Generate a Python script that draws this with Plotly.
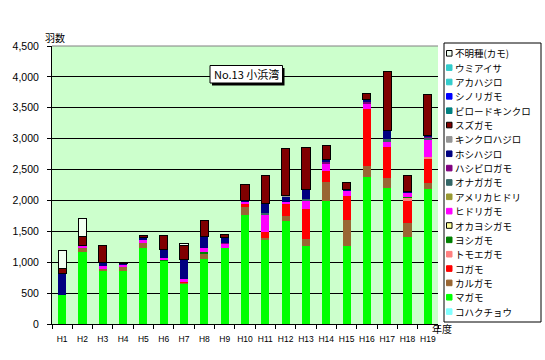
import plotly.graph_objects as go

years = ["H1", "H2", "H3", "H4", "H5", "H6", "H7", "H8", "H9", "H10",
         "H11", "H12", "H13", "H14", "H15", "H16", "H17", "H18", "H19"]

# stacking order: bottom -> top
kohakuchou      = [0] * 19
magamo          = [470, 1170, 863, 858, 1236, 1025, 659, 1052, 1230, 1765, 1365, 1668, 1268, 1991, 1263, 2380, 2207, 1408, 2186]
karugamo        = [0, 60, 22, 60, 70, 0, 16, 92, 0, 134, 33, 86, 113, 308, 421, 178, 162, 227, 102]
kogamo          = [0, 0, 0, 0, 0, 0, 16, 0, 0, 44, 97, 194, 481, 173, 393, 918, 497, 356, 383]
tomoegamo       = [0, 0, 0, 0, 0, 0, 0, 0, 0, 0, 0, 0, 0, 0, 0, 0, 0, 54, 28]
yoshigamo       = [0, 0, 0, 0, 0, 16, 0, 22, 0, 0, 0, 0, 0, 0, 0, 0, 0, 16, 0]
okayoshigamo    = [0] * 19
hidorigamo      = [0, 38, 54, 40, 54, 22, 32, 64, 71, 37, 270, 22, 134, 130, 81, 86, 81, 65, 291]
amerikahidori   = [0] * 19
onagagamo       = [0, 0, 0, 0, 0, 0, 0, 0, 0, 0, 27, 0, 22, 0, 0, 0, 48, 0, 22]
hashibirogamo   = [0, 0, 0, 0, 0, 0, 0, 0, 10, 8, 0, 0, 0, 21, 0, 37, 0, 0, 16]
hoshihajiro     = [350, 0, 54, 20, 43, 146, 318, 184, 97, 16, 156, 91, 162, 32, 22, 28, 141, 22, 27]
kinkurohajiro   = [0, 0, 0, 0, 0, 0, 0, 0, 0, 0, 0, 22, 0, 0, 0, 0, 0, 0, 0]
suzugamo        = [80, 146, 281, 20, 33, 227, 227, 259, 43, 249, 460, 761, 680, 237, 114, 97, 955, 260, 664]
birodokinkuro   = [0] * 19
shinorigamo     = [0] * 19
akahajiro       = [0] * 19
umiaisa         = [0] * 19
fumeishu        = [286, 297, 0, 0, 0, 0, 40, 0, 0, 0, 0, 0, 0, 0, 0, 0, 0, 0, 0]

series_names = ["コハクチョウ", "マガモ", "カルガモ", "コガモ", "トモエガモ", "ヨシガモ",
                "オカヨシガモ", "ヒドリガモ", "アメリカヒドリ", "オナガガモ", "ハシビロガモ",
                "ホシハジロ", "キンクロハジロ", "スズガモ", "ビロードキンクロ", "シノリガモ",
                "アカハジロ", "ウミアイサ", "不明種(カモ)"]
series_values = [kohakuchou, magamo, karugamo, kogamo, tomoegamo, yoshigamo,
                 okayoshigamo, hidorigamo, amerikahidori, onagagamo, hashibirogamo,
                 hoshihajiro, kinkurohajiro, suzugamo, birodokinkuro, shinorigamo,
                 akahajiro, umiaisa, fumeishu]
series_colors = ["#80FFFF", "#00FF00", "#996633", "#FF0000", "#FF8080", "#008000",
                 "#FFFF99", "#FF00FF", "#999933", "#336666", "#800080",
                 "#000080", "#969696", "#800000", "#008080", "#0000FF",
                 "#33CCCC", "#33CCCC", "#F2FFF2"]
outlined = {"スズガモ", "不明種(カモ)", "オカヨシガモ"}

y_ticks = list(range(0, 4501, 500))

# plot area in pixels
L, R, T, B = 52, 438, 46, 324
W, H = 545, 360


def px(x):
    return (x - L) / (R - L)


def py(y):
    return (B - y) / (B - T)


fig = go.Figure()
for name, vals, col in zip(series_names, series_values, series_colors):
    lw = 1 if name in ("スズガモ", "不明種(カモ)") else 0
    fig.add_trace(go.Bar(x=years, y=vals, name=name, marker_color=col,
                         marker_line=dict(color="black", width=lw),
                         showlegend=False))

shapes = []
annotations = []

# gray top border of plot area
shapes.append(dict(type="line", xref="paper", yref="paper", x0=0, x1=1, y0=1, y1=1,
                   line=dict(color="#808080", width=1), layer="above"))

# title box with shadow
shapes.append(dict(type="rect", xref="paper", yref="paper",
                   x0=px(212), x1=px(284.5), y0=py(85.5), y1=py(68),
                   fillcolor="black", line=dict(width=0), layer="above"))
shapes.append(dict(type="rect", xref="paper", yref="paper",
                   x0=px(210), x1=px(282.5), y0=py(83), y1=py(65.5),
                   fillcolor="white", line=dict(color="black", width=1), layer="above"))
annotations.append(dict(xref="paper", yref="paper", x=px(246.2), y=py(74.3),
                        text="No.13 小浜湾", showarrow=False,
                        font=dict(family="Noto Sans CJK JP", size=11, color="black"),
                        xanchor="center", yanchor="middle"))

# y-axis title and x-axis title
annotations.append(dict(xref="paper", yref="paper", x=px(43), y=py(38),
                        text="羽数", showarrow=False,
                        font=dict(family="Noto Sans CJK JP", size=10, color="black"),
                        xanchor="left", yanchor="middle"))
annotations.append(dict(xref="paper", yref="paper", x=px(430), y=py(329),
                        text="年度", showarrow=False,
                        font=dict(family="Noto Sans CJK JP", size=10, color="black"),
                        xanchor="left", yanchor="middle"))

# custom legend
shapes.append(dict(type="rect", xref="paper", yref="paper",
                   x0=px(444), x1=px(541), y0=py(322), y1=py(43),
                   fillcolor="white", line=dict(color="black", width=1), layer="above"))
legend_order = list(range(len(series_names)))[::-1]
for i, idx in enumerate(legend_order):
    yc = 53.3 + 14.35 * i
    name = series_names[idx]
    shapes.append(dict(type="rect", xref="paper", yref="paper",
                       x0=px(446.5), x1=px(452), y0=py(yc + 2.8), y1=py(yc - 2.8),
                       fillcolor=series_colors[idx],
                       line=dict(color="black" if name in outlined else series_colors[idx], width=1),
                       layer="above"))
    annotations.append(dict(xref="paper", yref="paper", x=px(453), y=py(yc),
                            text=name, showarrow=False,
                            font=dict(family="Noto Sans CJK JP", size=9.5, color="black"),
                            xanchor="left", yanchor="middle"))

fig.update_layout(
    barmode="stack",
    bargap=0.6,
    width=W, height=H,
    margin=dict(l=L, r=W - R, t=T, b=H - B, pad=0, autoexpand=False),
    paper_bgcolor="white",
    plot_bgcolor="#CCFFCC",
    font=dict(family="Liberation Sans", size=10, color="black"),
    shapes=shapes,
    annotations=annotations,
    showlegend=False,
    xaxis=dict(type="category", showline=True, linecolor="black", linewidth=1,
               ticks="outside", tickson="boundaries", ticklen=4, tickcolor="black",
               tickangle=0, automargin=False, ticklabelstandoff=7,
               tickfont=dict(family="Liberation Sans", size=8.5, color="black"),
               showgrid=False),
    yaxis=dict(range=[0, 4500], tickvals=y_ticks, tickformat=",d",
               showline=True, linecolor="black", linewidth=1,
               ticks="outside", ticklen=4, tickcolor="black",
               ticklabelstandoff=6, automargin=False,
               tickfont=dict(family="Liberation Sans", size=10.5, color="black"),
               showgrid=True, gridcolor="black", gridwidth=1, zeroline=False),
)

fig.write_html("out.html", config={"displayModeBar": False},
               post_script="document.body.style.margin='0px';document.body.style.overflow='hidden';")
